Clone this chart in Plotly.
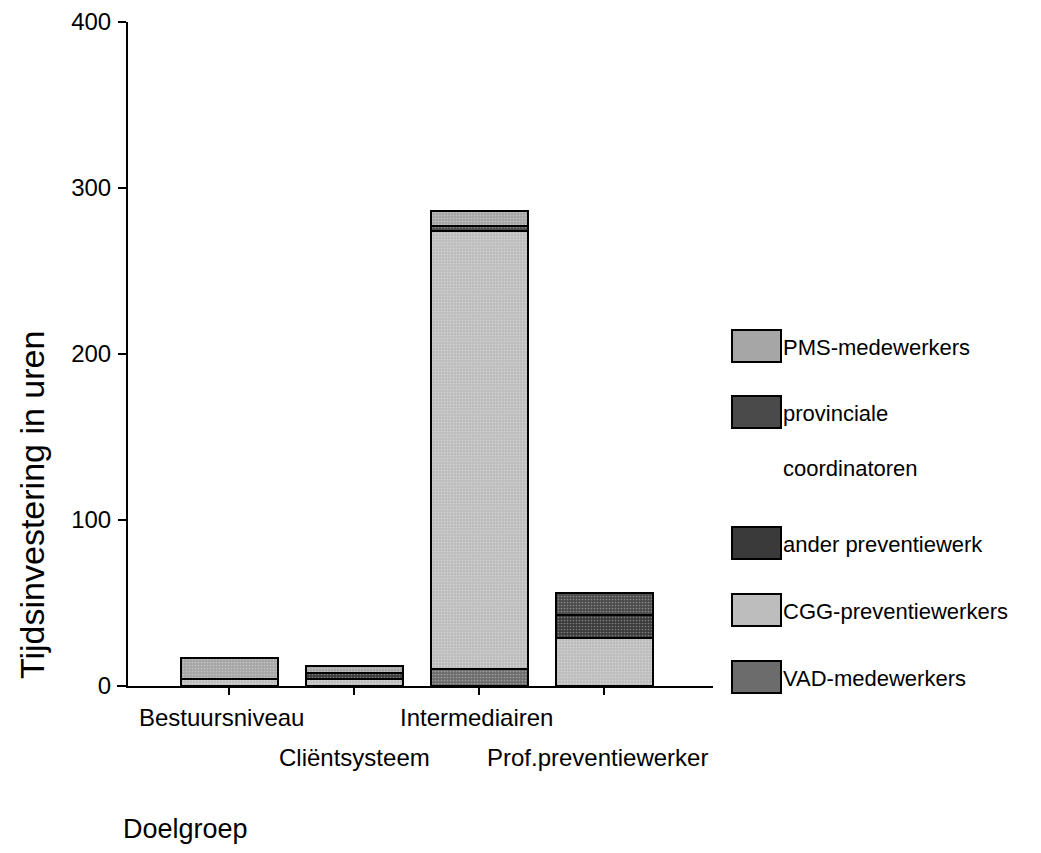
import plotly.graph_objects as go

categories = ["Bestuursniveau", "Cliëntsysteem", "Intermediairen", "Prof.preventiewerker"]
label_rows = [1, 2, 1, 2]
series_names = ["VAD-medewerkers", "CGG-preventiewerkers", "ander preventiewerk",
                "provinciale coordinatoren", "PMS-medewerkers"]
legend_lines = [["VAD-medewerkers"], ["CGG-preventiewerkers"], ["ander preventiewerk"],
                ["provinciale", "coordinatoren"], ["PMS-medewerkers"]]
vad = [0, 0, 10, 0]
cgg = [4, 4, 264, 29]
ander = [0, 4, 0, 14]
provinciale = [0, 0, 3, 13]
pms = [13, 4, 9, 0]
series_values = [vad, cgg, ander, provinciale, pms]
colors = ["#6c6c6c", "#bdbdbd", "#3a3a3a", "#4a4a4a", "#a6a6a6"]
y_ticks = [0, 100, 200, 300, 400]

FONT = "Liberation Sans, Arial, sans-serif"
W, H = 1041, 853
OFF = 8  # page body margin
# plot area in page pixels
PL, PR, PT, PB = 128, 713, 22, 686
L, R, T, B = PL - OFF, PR - OFF, PT - OFF, PB - OFF

fig = go.Figure()
xs = list(range(len(categories)))
for name, vals, col in zip(series_names, series_values, colors):
    fig.add_trace(go.Bar(
        x=xs, y=vals, name=name, width=0.776,
        marker=dict(color=col, line=dict(color="black", width=2),
                    pattern=dict(shape=".", size=3, solidity=0.25,
                                 fgcolor="#ffffff", fgopacity=0.35)),
        showlegend=False,
    ))

def px_x(p):  # page px -> paper
    return (p - PL) / (PR - PL)

def px_y(p):
    return (PB - p) / (PB - PT)

shapes = []
annotations = []
# manual legend, top to bottom
legend_y = [346, 412, 543, 610, 677]
for lines, col, yc in zip(legend_lines[::-1], colors[::-1], legend_y):
    shapes.append(dict(type="rect", xref="paper", yref="paper",
                       x0=px_x(732), x1=px_x(781), y0=px_y(yc - 16), y1=px_y(yc + 16),
                       fillcolor=col, line=dict(color="black", width=2)))
    for k, line in enumerate(lines):
        annotations.append(dict(text=line, xref="paper", yref="paper",
                                x=px_x(781), y=px_y(yc + 1 + 56 * k),
                                xanchor="left", yanchor="middle",
                                showarrow=False,
                                font=dict(size=22, color="black", family=FONT)))

# category labels, staggered rows
label_dx = [-0.06, 0.0, -0.02, -0.05]
for i, (cat, row) in enumerate(zip(categories, label_rows)):
    annotations.append(dict(text=cat, xref="x", yref="paper", x=i + label_dx[i],
                            y=px_y(717 if row == 1 else 757),
                            xanchor="center", yanchor="middle", showarrow=False,
                            font=dict(size=24, color="black", family=FONT)))

annotations.append(dict(text="Tijdsinvestering in uren", xref="paper", yref="paper",
                        x=px_x(32), y=px_y(505), textangle=-90, showarrow=False,
                        xanchor="center", yanchor="middle",
                        font=dict(size=34, color="black", family=FONT)))
annotations.append(dict(text="Doelgroep", xref="paper", yref="paper",
                        x=px_x(121), y=px_y(829), showarrow=False,
                        xanchor="left", yanchor="middle",
                        font=dict(size=27, color="black", family=FONT)))

# small extension of the x axis line to the left of the y axis
shapes.append(dict(type="line", xref="paper", yref="paper",
                   x0=px_x(117), x1=0, y0=0, y1=0,
                   line=dict(color="black", width=2)))

fig.update_layout(
    width=W, height=H,
    margin=dict(l=L, r=W - R, t=T, b=H - B, pad=0, autoexpand=False),
    paper_bgcolor="white", plot_bgcolor="white",
    barmode="stack", bargap=0,
    showlegend=False,
    shapes=shapes, annotations=annotations,
    font=dict(family=FONT, color="black"),
    xaxis=dict(range=[-0.808, 3.872], tickvals=xs, ticktext=[""] * 4,
               showline=True, linecolor="black", linewidth=2,
               ticks="outside", ticklen=7, tickwidth=2, tickcolor="black",
               showgrid=False, zeroline=False, fixedrange=True, automargin=False),
    yaxis=dict(range=[0, 400], tickvals=y_ticks,
               showline=True, linecolor="black", linewidth=2,
               ticks="outside", ticklen=8, tickwidth=2, tickcolor="black",
               ticklabelstandoff=2,
               showgrid=False, zeroline=False, automargin=False,
               tickfont=dict(size=24, color="black", family=FONT)),
)

fig.write_html("out.html")
